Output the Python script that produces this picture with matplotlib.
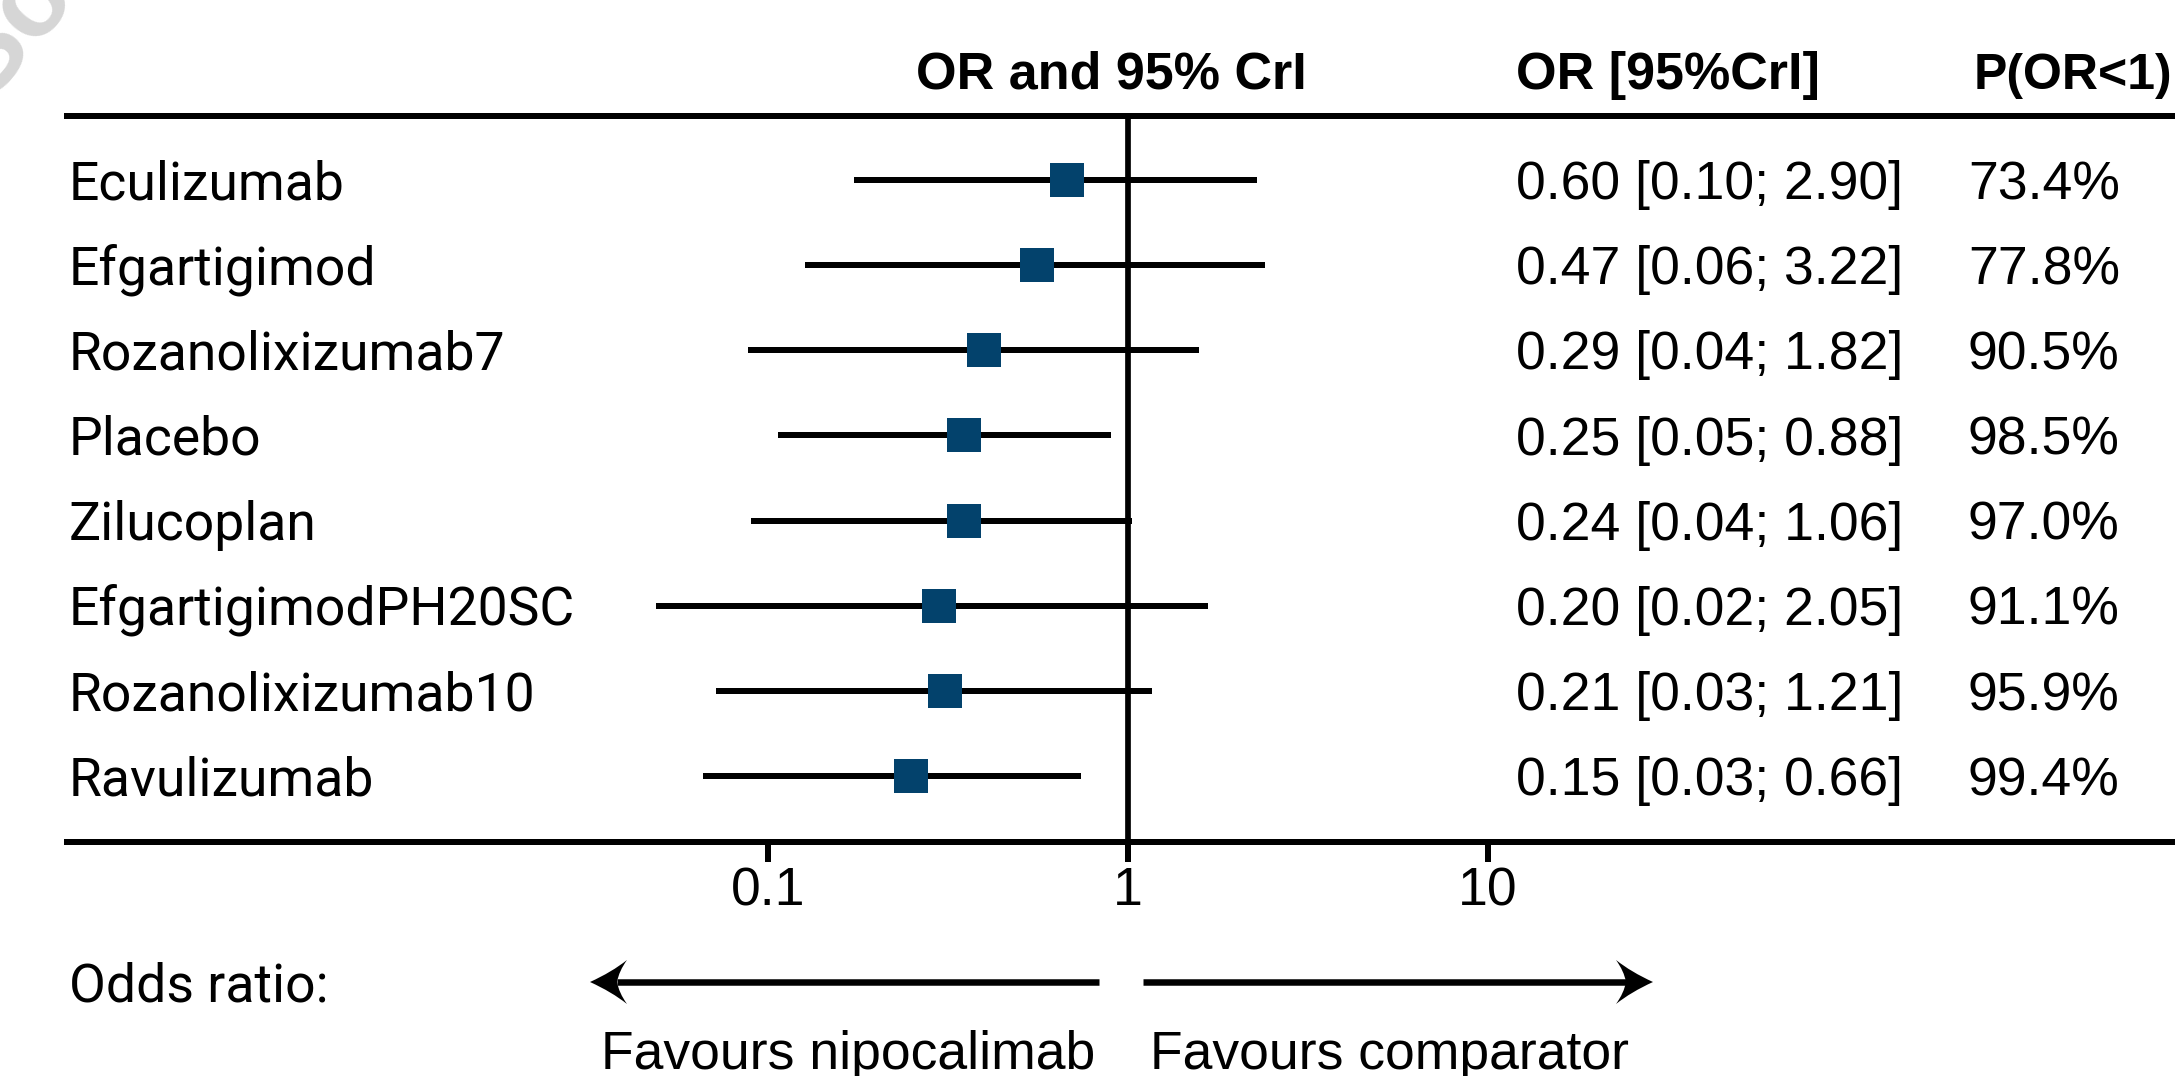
import numpy as np
import matplotlib
matplotlib.use('Agg')
import matplotlib.pyplot as plt
from matplotlib.path import Path
from matplotlib.patches import PathPatch
from matplotlib.transforms import blended_transform_factory, ScaledTranslation

# treatments (top to bottom)
treatments = ['Eculizumab', 'Efgartigimod', 'Rozanolixizumab7', 'Placebo',
              'Zilucoplan', 'EfgartigimodPH20SC', 'Rozanolixizumab10', 'Ravulizumab']

# plotted odds ratios and 95% CrI
or_est = [0.68, 0.56, 0.40, 0.35, 0.35, 0.30, 0.31, 0.25]
or_low = [0.174, 0.127, 0.088, 0.107, 0.090, 0.049, 0.072, 0.066]
or_high = [2.28, 2.41, 1.58, 0.90, 1.03, 1.67, 1.17, 0.74]

# table columns
or_text = ['0.60 [0.10; 2.90]', '0.47 [0.06; 3.22]', '0.29 [0.04; 1.82]',
           '0.25 [0.05; 0.88]', '0.24 [0.04; 1.06]', '0.20 [0.02; 2.05]',
           '0.21 [0.03; 1.21]', '0.15 [0.03; 0.66]']
p_text = ['73.4%', '77.8%', '90.5%', '98.5%', '97.0%', '91.1%', '95.9%', '99.4%']

x_ticks = [0.1, 1, 10]
x_ticklabels = ['0.1', '1', '10']

W, H = 2175, 1076
FS = 38.5
FSB = 37.5
TXT = 'Liberation Sans'
LAB = 'Roboto'
blue = '#03426c'
px = 0.72  # pixel -> points at dpi 100

fig = plt.figure(figsize=(W / 100, H / 100), dpi=100)

# overlay in pixel units for the free text
ov = fig.add_axes([0, 0, 1, 1])
ov.set_xlim(0, W)
ov.set_ylim(H, 0)
ov.axis('off')
ov.patch.set_visible(False)

# forest plot axes
left, right, top, bottom = 67, 2175, 116, 842
ax = fig.add_axes([left / W, 1 - bottom / H, (right - left) / W, (bottom - top) / H])
ax.set_xscale('log')
ax.set_xlim(10 ** -2.946, 10 ** 2.909)
n = len(treatments)
ax.set_ylim(n - 1 + 0.775, -0.752)
ax.patch.set_visible(False)

for s in ['left', 'right']:
    ax.spines[s].set_visible(False)
for s in ['top', 'bottom']:
    ax.spines[s].set_linewidth(6 * px)

ax.set_xticks(x_ticks)
ax.set_xticklabels(x_ticklabels, fontfamily=TXT)
ax.xaxis.set_minor_locator(matplotlib.ticker.NullLocator())
ax.set_yticks([])
ax.tick_params(axis='x', length=20 * px, width=6 * px, pad=3, labelsize=FS)

ax.axvline(1, color='black', lw=5.7 * px, zorder=1)

y = np.arange(n)
ax.hlines(y, or_low, or_high, color='black', lw=6 * px, zorder=2)
ax.plot(or_est, y, 's', color=blue, markersize=34 * px, markeredgewidth=0, zorder=3)

# text rows: x in pixels, y in row units, baseline shifted to centre caps
cap_shift = ScaledTranslation(0, -FS * 0.716 / 2 / 72, fig.dpi_scale_trans)
row_tr = blended_transform_factory(ov.transData, ax.transData) + cap_shift

for i in range(n):
    ov.text(69, i, treatments[i], transform=row_tr, fontsize=FS, family=LAB, va='baseline')
    ov.text(1516, i, or_text[i], transform=row_tr, fontsize=FS, family=TXT, va='baseline')
    ov.text(1968, i, p_text[i], transform=row_tr, fontsize=FS, family=TXT, va='baseline')

# headers
head_y = 70 + FSB * 0.716 / 2 / px
ov.text(1111, head_y, 'OR and 95% CrI', fontsize=FSB, family=TXT, fontweight='bold',
        ha='center', va='baseline')
ov.text(1516, head_y, 'OR [95%CrI]', fontsize=FSB, family=TXT, fontweight='bold', va='baseline')
ov.text(2172, head_y, 'P(OR<1)', fontsize=FSB - 1.5, family=TXT, fontweight='bold',
        ha='right', va='baseline')

# bottom annotation
ov.text(69, 982 + FS * 0.716 / 2 / px, 'Odds ratio:', fontsize=FS, family=LAB, va='baseline')


def arrow(x_tail, x_tip, yy):
    # line plus a concave ("stealth") head
    d = 1 if x_tip < x_tail else -1
    L, hw = 37, 22
    notch = x_tip + d * 27
    ov.plot([x_tail, notch], [yy, yy], color='black', lw=6.5 * px, solid_capstyle='butt')
    verts = [(x_tip, yy),
             (x_tip + d * 22, yy - 10), (x_tip + d * L, yy - hw),
             (x_tip + d * 29, yy - 11), (notch, yy),
             (x_tip + d * 29, yy + 11), (x_tip + d * L, yy + hw),
             (x_tip + d * 22, yy + 10), (x_tip, yy)]
    codes = [Path.MOVETO, Path.CURVE3, Path.CURVE3, Path.CURVE3, Path.CURVE3,
             Path.CURVE3, Path.CURVE3, Path.CURVE3, Path.CURVE3]
    ov.add_patch(PathPatch(Path(verts, codes), facecolor='black', edgecolor='none'))


arrow(1099, 590, 982)
arrow(1143, 1653, 982)
ov.text(848, 1069, 'Favours nipocalimab', fontsize=FS, family=TXT, ha='center', va='baseline')
ov.text(1390, 1069, 'Favours comparator', fontsize=FS, family=TXT, ha='center', va='baseline')

# faint watermark fragment in the corner
ov.text(10, 30, 'So', fontsize=80, color='#d6d6d6', rotation=50, fontweight='bold',
        family=TXT, ha='center', va='center', zorder=0)

fig.savefig('out.png', dpi=100)
